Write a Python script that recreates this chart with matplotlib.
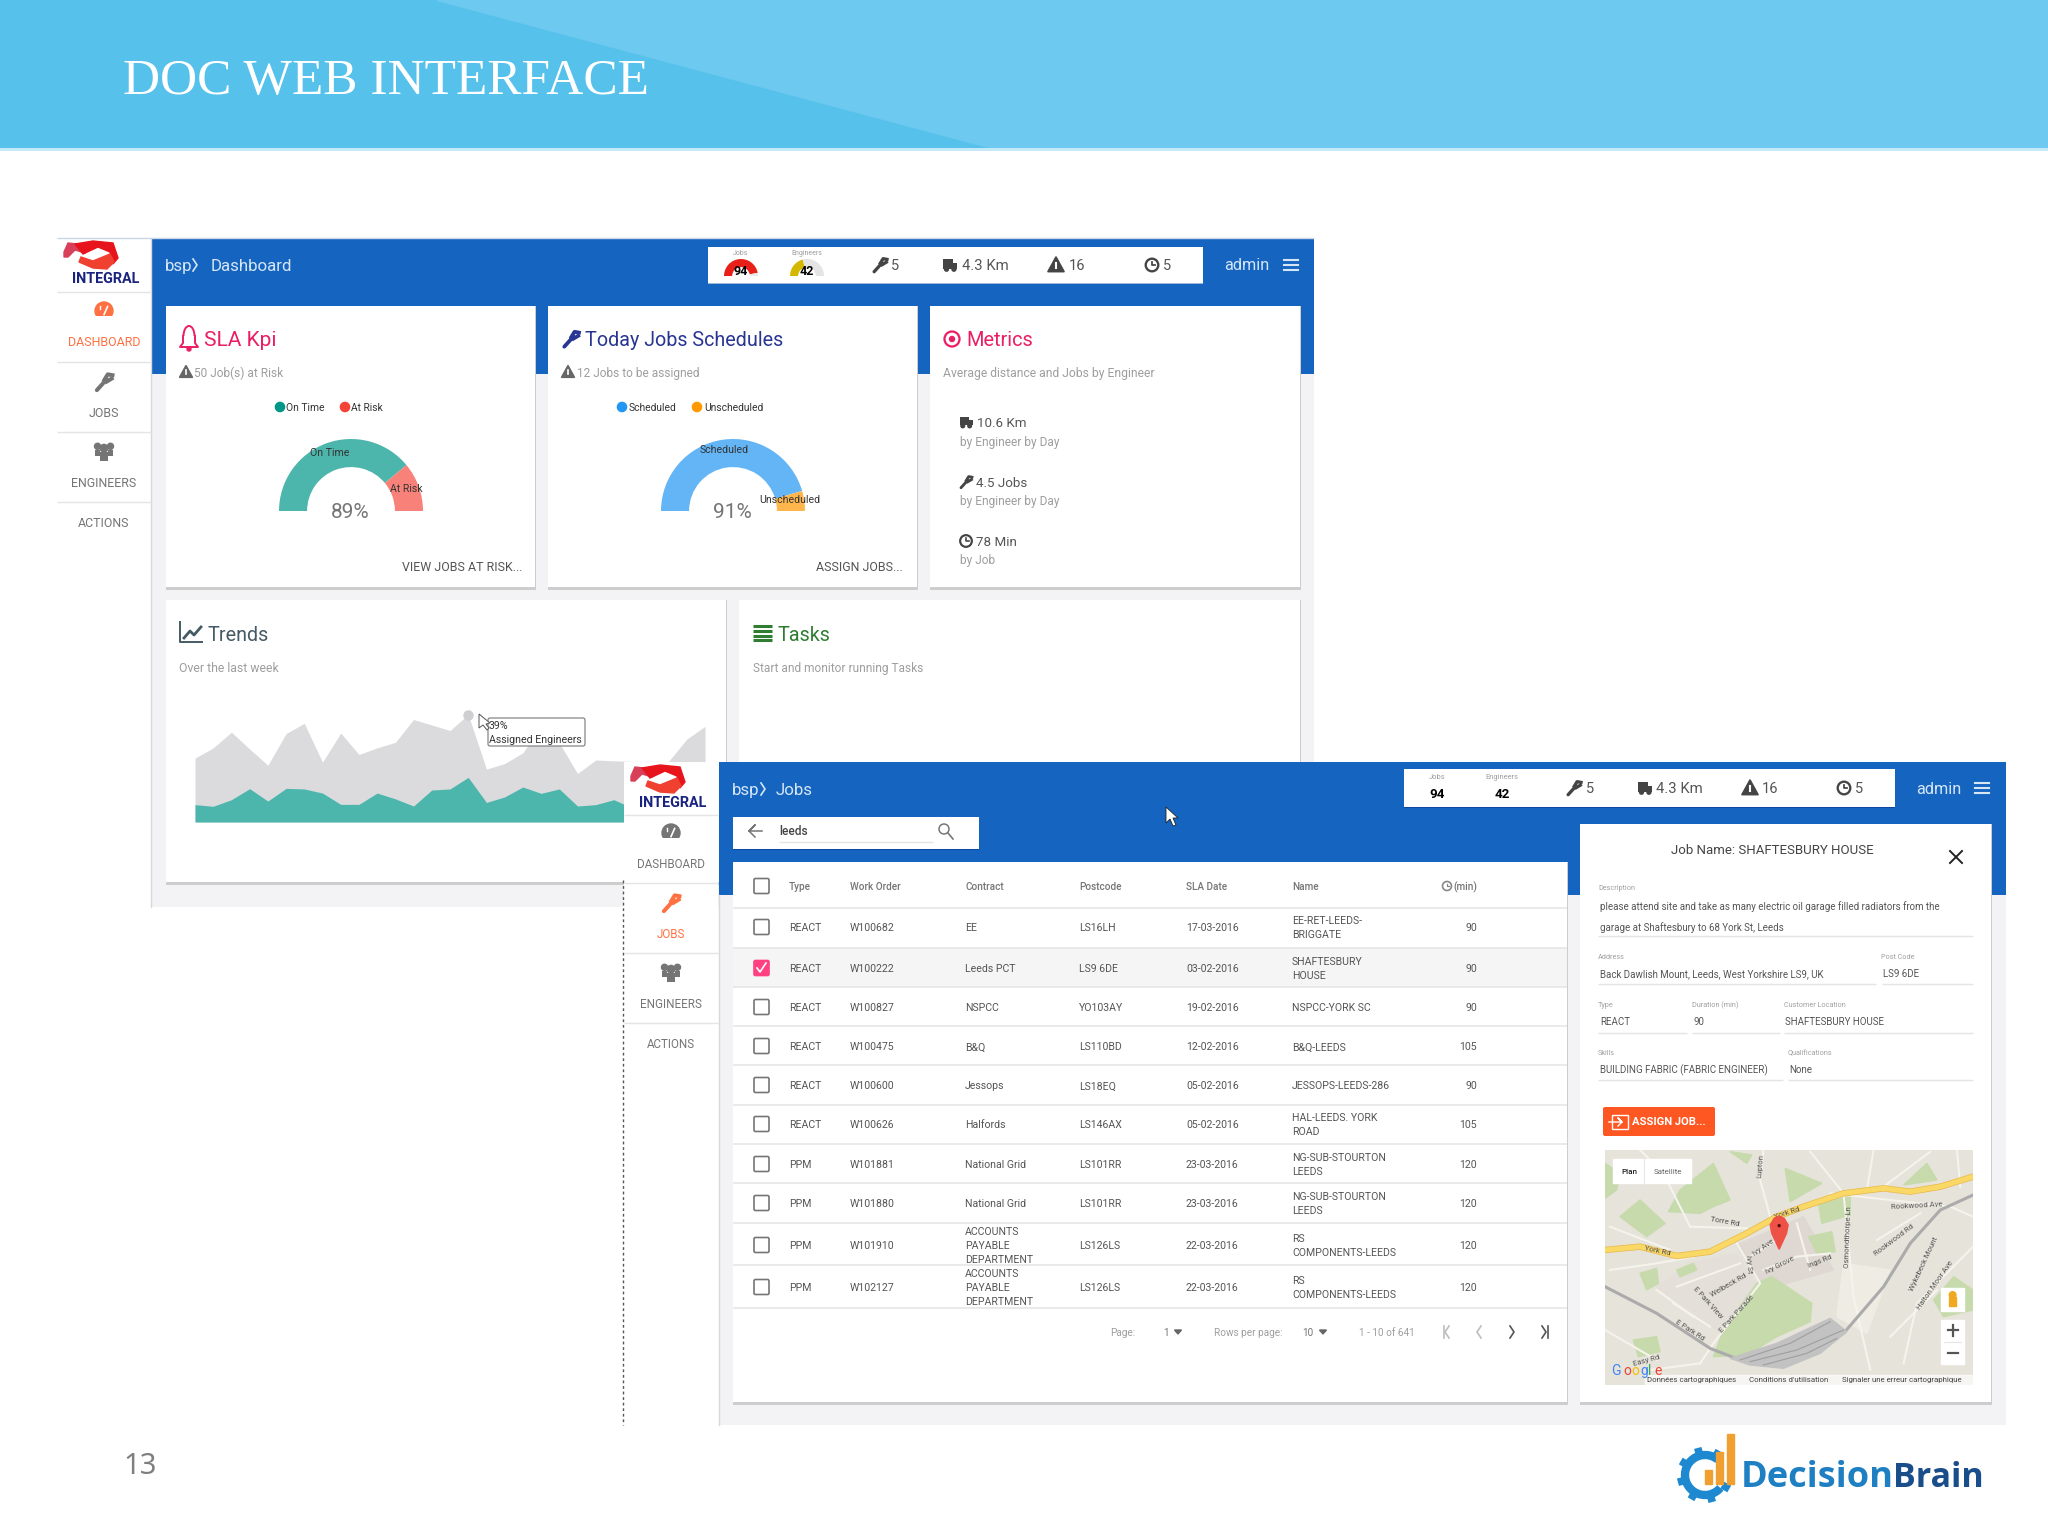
import numpy as np
import matplotlib
matplotlib.use("Agg")
import matplotlib.pyplot as plt
from matplotlib.patches import Rectangle, Circle, Polygon, FancyBboxPatch, Arc

W, H = 2048, 1536

# gauges
sla_labels = ["On Time", "At Risk"]
sla_values = [78, 22]
sla_center = "89%"
sched_labels = ["Scheduled", "Unscheduled"]
sched_values = [91, 9]
sched_center = "91%"
mini_jobs = [94, 6]
mini_engineers = [42, 58]

# trends, one value per day slot
assigned_engineers = [23.2, 26.9, 32.6, 26.5, 20.6, 32.1, 35.8, 21.7, 32.3, 24.5, 26.9, 28.9, 37.2, 35.2, 33.2,
                      39.0, 19.2, 21.2, 25.1, 34.7, 28.7, 17.6, 22.5, 22.2, 22.0, 22.0, 22.0, 30.1, 34.7]
trend_teal = [6.3, 5.7, 8.1, 12.1, 7.6, 12.2, 12.0, 10.5, 6.4, 6.4, 10.5, 8.4, 5.8, 11.6, 12.0,
              16.2, 7.1, 9.1, 12.7, 10.4, 12.0, 5.8, 6.3, 8.1, 5.1, 7.0, 8.0, 7.0, 7.0]

# jobs table
col_types = ["REACT"] * 6 + ["PPM"] * 4
col_orders = ["W100682", "W100222", "W100827", "W100475", "W100600", "W100626", "W101881", "W101880", "W101910", "W102127"]
col_contracts = ["EE", "Leeds PCT", "NSPCC", "B&Q", "Jessops", "Halfords", "National Grid", "National Grid",
                 "ACCOUNTS\nPAYABLE\nDEPARTMENT", "ACCOUNTS\nPAYABLE\nDEPARTMENT"]
col_postcodes = ["LS16LH", "LS9 6DE", "YO103AY", "LS110BD", "LS18EQ", "LS146AX", "LS101RR", "LS101RR", "LS126LS", "LS126LS"]
col_dates = ["17-03-2016", "03-02-2016", "19-02-2016", "12-02-2016", "05-02-2016", "05-02-2016",
             "23-03-2016", "23-03-2016", "22-03-2016", "22-03-2016"]
col_names = ["EE-RET-LEEDS-\nBRIGGATE", "SHAFTESBURY\nHOUSE", "NSPCC-YORK SC", "B&Q-LEEDS", "JESSOPS-LEEDS-286",
             "HAL-LEEDS. YORK\nROAD", "NG-SUB-STOURTON\nLEEDS", "NG-SUB-STOURTON\nLEEDS",
             "RS\nCOMPONENTS-LEEDS", "RS\nCOMPONENTS-LEEDS"]
col_minutes = [90, 90, 90, 105, 90, 105, 120, 120, 120, 120]
table_headers = ["Type", "Work Order", "Contract", "Postcode", "SLA Date", "Name"]

BLUE = "#1565C0"
ORANGE = "#FF7043"
plt.rcParams["font.family"] = ["Roboto", "DejaVu Sans"]

fig = plt.figure(figsize=(W / 100, H / 100), dpi=100, facecolor="white")


def px_axes(x0, y0, x1, y1, zorder):
    a = fig.add_axes([x0 / W, 1 - y1 / H, (x1 - x0) / W, (y1 - y0) / H], zorder=zorder)
    a.axis("off")
    return a


bg = px_axes(0, 0, W, H, 0)
bg.set_xlim(0, W)
bg.set_ylim(H, 0)
top = px_axes(0, 0, W, H, 2)
top.set_xlim(0, W)
top.set_ylim(H, 0)
top.patch.set_alpha(0)


def T(a, x, y, s, size=7.6, color="#555555", ha="left", va="center", **kw):
    return a.text(x, y + 1.3, s, fontsize=size, color=color, ha=ha, va=va, **kw)


def box(a, x0, y0, x1, y1, color, z=1, **kw):
    a.add_patch(Rectangle((x0, y0), x1 - x0, y1 - y0, facecolor=color, edgecolor="none", zorder=z, **kw))


def card(a, x0, y0, x1, y1, z=2):
    box(a, x0 - 0.5, y0, x1 + 0.5, y1 + 3, "#CDCDCD", z)
    box(a, x0, y0, x1, y1, "white", z)


def hline(a, x0, x1, y, color="#E4E4E4", lw=1.0, z=3):
    a.plot([x0, x1], [y, y], color=color, lw=lw, zorder=z, solid_capstyle="butt")


def wrench(a, x, y, s, color, z=4):
    a.plot([x - s * 0.42, x + s * 0.15], [y + s * 0.48, y - s * 0.15], color=color, lw=s * 0.17, zorder=z, solid_capstyle="round")
    a.plot([x + s * 0.02, x + s * 0.22, x + s * 0.5], [y - s * 0.12, y - s * 0.45, y - s * 0.4], color=color, lw=s * 0.17, zorder=z)
    a.plot([x + s * 0.15, x + s * 0.45], [y - s * 0.02, y - s * 0.2], color=color, lw=s * 0.17, zorder=z)


def truck(a, x, y, s, color, z=4):
    box(a, x - s * 0.5, y - s * 0.4, x + s * 0.2, y + s * 0.25, color, z)
    box(a, x + s * 0.2, y - s * 0.15, x + s * 0.5, y + s * 0.25, color, z)
    a.add_patch(Circle((x - s * 0.25, y + s * 0.3), s * 0.14, color=color, zorder=z))
    a.add_patch(Circle((x + s * 0.28, y + s * 0.3), s * 0.14, color=color, zorder=z))


def warn(a, x, y, s, color="#444444", z=4):
    a.add_patch(Polygon([(x, y - s * 0.55), (x + s * 0.55, y + s * 0.45), (x - s * 0.55, y + s * 0.45)], color=color, zorder=z))
    a.plot([x, x], [y - s * 0.15, y + s * 0.2], color="white", lw=s * 0.1, zorder=z + 1)


def clock(a, x, y, s, color="#444444", z=4):
    a.add_patch(Circle((x, y), s * 0.45, fill=False, edgecolor=color, lw=s * 0.12, zorder=z))
    a.plot([x, x, x + s * 0.22], [y - s * 0.25, y, y], color=color, lw=s * 0.09, zorder=z)


def people(a, x, y, s, color="#757575", z=4):
    for dx, dy, r in [(-0.34, -0.3, 0.16), (0.34, -0.3, 0.16), (0, -0.2, 0.2)]:
        a.add_patch(Circle((x + dx * s, y + dy * s), s * r, color=color, zorder=z))
    box(a, x - s * 0.48, y - s * 0.1, x - s * 0.2, y + s * 0.2, color, z)
    box(a, x + s * 0.2, y - s * 0.1, x + s * 0.48, y + s * 0.2, color, z)
    box(a, x - s * 0.2, y + s * 0.02, x + s * 0.2, y + s * 0.45, color, z)


def dial(a, x, y, s, color, z=4):
    a.add_patch(Circle((x, y), s * 0.5, color=color, zorder=z))
    box(a, x - s * 0.55, y + s * 0.28, x + s * 0.55, y + s * 0.56, "white", z)
    a.plot([x, x + s * 0.2], [y + s * 0.2, y - s * 0.25], color="white", lw=1.2, zorder=z + 1)
    a.plot([x - s * 0.25, x - s * 0.25], [y - s * 0.3, y - s * 0.1], color="white", lw=1, zorder=z + 1)


def menu(a, x, y, color="#D6E6F7", z=4):
    for dy in (-5, 0, 5):
        a.plot([x - 7, x + 7], [y + dy, y + dy], color=color, lw=1.5, zorder=z)


def chevron(a, x, y, color, z=4):
    a.plot([x - 2, x + 2, x - 2], [y - 6, y, y + 6], color=color, lw=1.2, zorder=z)


def integral_logo(a, x, y, z=4):
    # ribbon sits left of the word
    rx = x - 14
    a.add_patch(Polygon([(rx + 1, y + 12), (rx + 5, y + 3), (rx + 14, y + 4), (rx + 26, y + 9), (rx + 22, y + 13), (rx + 12, y + 10), (rx + 5, y + 17), (rx + 1, y + 17)], color="#D8405A", zorder=z))
    a.add_patch(Polygon([(rx + 12, y + 4), (rx + 30, y + 1), (rx + 50, y + 3), (rx + 55, y + 18), (rx + 50, y + 24), (rx + 47, y + 12), (rx + 35, y + 7), (rx + 20, y + 14)], color="#E8141C", zorder=z))
    a.add_patch(Polygon([(rx + 18, y + 17), (rx + 30, y + 21), (rx + 47, y + 14), (rx + 51, y + 22), (rx + 44, y + 29), (rx + 30, y + 28), (rx + 16, y + 22)], color="#F04030", zorder=z))
    T(a, x + 29, y + 38, "INTEGRAL", 10.4, "#1A237E", ha="center", fontweight="bold", zorder=z)


def gauge(x, y, r, values, colors, width=0.39, zorder=1):
    # half doughnut: the third slice is the hidden lower half
    a = px_axes(x - r, y - r, x + r, y + r, zorder)
    vals = list(values) + [sum(values)]
    a.pie(vals, colors=list(colors) + ["none"], startangle=180, counterclock=False, radius=1.0,
          wedgeprops=dict(width=width, linewidth=0))
    a.set_xlim(-1, 1)
    a.set_ylim(-1, 1)
    return a


def sidebar(a, x0, x1, logo_y, rows, active, size, z=3):
    cx = (x0 + x1) / 2
    names = ["DASHBOARD", "JOBS", "ENGINEERS", "ACTIONS"]
    for i, name in enumerate(names):
        color = ORANGE if i == active else "#757575"
        T(a, cx, rows[i], name, size, color, ha="center", zorder=z + 1)
        if i < 3:
            icon_y = rows[i] - 30
            if i == 0:
                dial(a, cx, icon_y, 18, color, z + 1)
            elif i == 1:
                wrench(a, cx, icon_y, 17, color, z + 1)
            else:
                people(a, cx, icon_y, 19, color, z + 1)
    integral_logo(a, cx - 27, logo_y, z + 1)


# slide header
box(bg, 0, 0, W, 148, "#56C1EB", 1)
bg.add_patch(Polygon([(437, 0), (W, 0), (W, 148), (992, 148)], color="#6DC9EF", zorder=2))
box(bg, 0, 148, W, 151, "#C5E9F9", 2)
T(bg, 123, 80, "DOC WEB INTERFACE", 37, "white", family="Liberation Serif", zorder=3)

T(bg, 123, 1465, "13", 21, "#7F7F7F", family="Noto Sans")

# back window
box(bg, 57, 238, 151, 907, "white", 1)
box(bg, 151, 238, 1314, 907, "#F3F3F5", 1)
box(bg, 151, 238, 1314, 374, BLUE, 2)
bg.plot([151, 151], [238, 907], color="#D8D8D8", lw=1, zorder=3)
hline(bg, 57, 1314, 238, "#C9D6E8", 1)
for sep in (292, 362, 432, 502):
    hline(bg, 57, 151, sep)
sidebar(bg, 57, 151, 240, [341, 412, 482, 522], 0, 8.9)

T(bg, 165, 265, "bsp", 12.2, "#D6E6F7", zorder=4)
chevron(bg, 195, 265, "#D6E6F7")
T(bg, 211, 265, "Dashboard", 12.2, "#D6E6F7", zorder=4)

box(bg, 708, 247, 1203, 284, "#9DB8D8", 3)
box(bg, 708, 247, 1203, 283, "white", 3)
T(bg, 741, 252, "Jobs", 5, "#9E9E9E", ha="center", zorder=4)
T(bg, 807, 252, "Engineers", 5, "#9E9E9E", ha="center", zorder=4)
wrench(bg, 880, 265, 14, "#444444")
T(bg, 891, 265, "5", 10.5, "#555555", zorder=4)
truck(bg, 950, 265, 14, "#444444")
T(bg, 962, 265, "4.3 Km", 10.7, "#555555", zorder=4)
warn(bg, 1056, 265, 15)
T(bg, 1069, 265, "16", 10.5, "#555555", zorder=4)
clock(bg, 1152, 265, 14)
T(bg, 1163, 265, "5", 10.5, "#555555", zorder=4)
T(bg, 1224, 264, "admin", 11.7, "#D6E6F7", zorder=4)
menu(bg, 1291, 265)

for x0, x1 in [(166, 535), (548, 917), (930, 1300)]:
    card(bg, x0, 306, x1, 587)
card(bg, 166, 600, 726, 882)
card(bg, 739, 600, 1300, 882)

# bell icon and card titles
bg.add_patch(Arc((189, 336), 11, 20, theta1=180, theta2=360, edgecolor="#E91E63", lw=1.4, zorder=4))
bg.plot([183, 183, 180, 198, 195, 195], [336, 343, 347, 347, 343, 336], color="#E91E63", lw=1.4, zorder=4)
bg.add_patch(Circle((189, 349), 2, color="#E91E63", zorder=4))
T(bg, 204, 339, "SLA Kpi", 15, "#E91E63", zorder=4)
wrench(bg, 571, 339, 16, "#283593")
T(bg, 585, 339, "Today Jobs Schedules", 14.2, "#283593", zorder=4)
bg.add_patch(Circle((952, 339), 7.5, fill=False, edgecolor="#E91E63", lw=1.6, zorder=4))
bg.add_patch(Circle((952, 339), 2.5, color="#E91E63", zorder=4))
T(bg, 966, 339, "Metrics", 14.4, "#E91E63", zorder=4)

warn(bg, 186, 372, 12, "#666666")
T(bg, 194, 372, "50 Job(s) at Risk", 8.6, "#9E9E9E", zorder=4)
warn(bg, 568, 372, 12, "#666666")
T(bg, 577, 372, "12 Jobs to be assigned", 8.6, "#9E9E9E", zorder=4)
T(bg, 943, 372, "Average distance and Jobs by Engineer", 8.7, "#9E9E9E", zorder=4)

# gauge legends
SLA_COLORS = ["#4DB6AC", "#F8827A"]
SCHED_COLORS = ["#64B5F6", "#FFB74D"]
for lx, tx, col, lab in [(280, 286, "#009688", sla_labels[0]), (345, 351, "#F44336", sla_labels[1]),
                         (622, 629, "#2196F3", sched_labels[0]), (697, 704, "#FF9800", sched_labels[1])]:
    bg.add_patch(Circle((lx, 407), 4.6, color=col, zorder=4))
    T(bg, tx, 407, lab, 7.4, "#333333", zorder=4)

gauge(351, 511, 72, sla_values, SLA_COLORS)
gauge(733, 511, 72, sched_values, SCHED_COLORS)
T(top, 330, 452, sla_labels[0], 7.6, "#333333", ha="center", zorder=2)
T(top, 406, 488, sla_labels[1], 7.6, "#333333", ha="center", zorder=2)
T(top, 350, 511, sla_center, 15, "#757575", ha="center", zorder=2)
T(top, 724, 449, sched_labels[0], 7.6, "#333333", ha="center", zorder=2)
T(top, 790, 499, sched_labels[1], 7.6, "#333333", ha="center", zorder=2)
T(top, 732, 511, sched_center, 15, "#757575", ha="center", zorder=2)
T(bg, 522, 566, "VIEW JOBS AT RISK...", 8.9, "#555555", ha="right", zorder=4)
T(bg, 903, 566, "ASSIGN JOBS...", 8.9, "#555555", ha="right", zorder=4)

# status bar mini gauges
gauge(741, 276, 17, mini_jobs, ["#E8201A", "#E8E8E8"], width=0.48)
gauge(807, 276, 17, mini_engineers, ["#D4B800", "#E4E4E4"], width=0.48)
T(top, 741, 270, "94", 9, "black", ha="center", fontweight="bold", zorder=2)
T(top, 807, 270, "42", 9, "black", ha="center", fontweight="bold", zorder=2)

# metrics
truck(bg, 966, 422, 13, "#444444")
T(bg, 977, 422, "10.6 Km", 9.6, "#555555", zorder=4)
T(bg, 960, 441, "by Engineer by Day", 8.6, "#9E9E9E", zorder=4)
wrench(bg, 966, 482, 12, "#444444")
T(bg, 976, 482, "4.5 Jobs", 9.6, "#555555", zorder=4)
T(bg, 960, 500, "by Engineer by Day", 8.6, "#9E9E9E", zorder=4)
clock(bg, 966, 541, 13)
T(bg, 976, 541, "78 Min", 9.6, "#555555", zorder=4)
T(bg, 960, 559, "by Job", 8.6, "#9E9E9E", zorder=4)

# trends and tasks
bg.plot([180, 180, 202], [622, 642, 642], color="#455A64", lw=1.4, zorder=4)
bg.plot([184, 190, 194, 201], [638, 631, 635, 627], color="#455A64", lw=2, zorder=4)
T(bg, 208, 634, "Trends", 14.2, "#455A64", zorder=4)
T(bg, 179, 667, "Over the last week", 8.8, "#9E9E9E", zorder=4)
for dy in (-7, -2, 3, 7):
    hline(bg, 753, 772, 633 + dy, "#2E7D32", 2.2, 4)
T(bg, 778, 634, "Tasks", 14.2, "#2E7D32", zorder=4)
T(bg, 753, 667, "Start and monitor running Tasks", 8.55, "#9E9E9E", zorder=4)

trend = px_axes(195, 698, 705, 822, 1)
xs = np.arange(len(assigned_engineers))
trend.fill_between(xs, assigned_engineers, color="#DBDBDD", linewidth=0)
trend.fill_between(xs, trend_teal, color="#4DB6AC", linewidth=0)
trend.plot(15, assigned_engineers[15], "o", color="#CFCFD1", ms=6.5, clip_on=False)
trend.set_xlim(0, len(xs) - 1)
trend.set_ylim(0, 45)

top.add_patch(FancyBboxPatch((488, 718), 97, 28, boxstyle="round,pad=0,rounding_size=2", facecolor="white", edgecolor="#777777", lw=0.8, zorder=2))
T(top, 489, 725, "39%", 7.7, "#333333", zorder=3)
T(top, 489, 739, "Assigned Engineers", 7.7, "#333333", zorder=3)
top.add_patch(Polygon([(479, 714), (479, 728), (483, 725), (487, 730), (489, 728), (486, 724), (490, 723)], facecolor="white", edgecolor="#555555", lw=0.7, zorder=4))

# front window
box(top, 624, 762, 718, 1425, "white", 5)
box(top, 719, 762, 2006, 1425, "#F3F3F5", 5)
box(top, 719, 762, 2006, 895, BLUE, 6)
top.plot([623, 623], [880, 1425], color="#555555", lw=1, ls=(0, (2, 2)), zorder=6)
top.plot([718.5, 718.5], [895, 1425], color="#D8D8D8", lw=1, zorder=6)
for sep in (815, 883, 953, 1023):
    hline(top, 624, 718, sep, z=6)
sidebar(top, 624, 718, 764, [863, 933, 1003, 1043], 1, 8.4, z=7)

T(top, 732, 789, "bsp", 12.2, "#D6E6F7", zorder=7)
chevron(top, 763, 789, "#D6E6F7", 7)
T(top, 776, 789, "Jobs", 12.2, "#D6E6F7", zorder=7)

box(top, 1404, 769, 1895, 808, "#0D47A1", 7)
box(top, 1404, 769, 1895, 807, "white", 7)
T(top, 1437, 776, "Jobs", 5.4, "#9E9E9E", ha="center", zorder=8)
T(top, 1502, 776, "Engineers", 5.4, "#9E9E9E", ha="center", zorder=8)
T(top, 1437, 793, "94", 9.6, "black", ha="center", fontweight="bold", zorder=8)
T(top, 1502, 793, "42", 9.6, "black", ha="center", fontweight="bold", zorder=8)
wrench(top, 1574, 788, 14, "#444444", 8)
T(top, 1586, 788, "5", 10.5, "#555555", zorder=8)
truck(top, 1645, 788, 14, "#444444", 8)
T(top, 1656, 788, "4.3 Km", 10.7, "#555555", zorder=8)
warn(top, 1750, 788, 15, z=8)
T(top, 1762, 788, "16", 10.5, "#555555", zorder=8)
clock(top, 1844, 788, 14, z=8)
T(top, 1855, 788, "5", 10.5, "#555555", zorder=8)
T(top, 1916, 788, "admin", 11.7, "#D6E6F7", zorder=8)
menu(top, 1982, 788, z=8)
top.add_patch(Polygon([(1166, 807), (1166, 823), (1170, 819), (1173, 826), (1176, 825), (1173, 818), (1178, 818)], facecolor="white", edgecolor="#222222", lw=0.6, zorder=8))

# search box
box(top, 733, 817, 979, 850, "#0D47A1", 7)
box(top, 733, 817, 979, 849, "white", 7)
top.plot([762, 749, 755, 749, 755], [831, 831, 825, 831, 837], color="#757575", lw=1.1, zorder=8)
T(top, 779, 830, "leeds", 8.6, "#444444", zorder=8, fontweight="medium")
hline(top, 779, 933, 842, z=8)
top.add_patch(Circle((944, 829), 5, fill=False, edgecolor="#777777", lw=1.1, zorder=8))
top.plot([948, 953], [833, 839], color="#777777", lw=1.2, zorder=8)

# table
card(top, 733, 862, 1567, 1402, z=7)
box(top, 733, 948, 1567, 987, "#F5F5F5", 8)
row_lines = [908, 948, 987, 1026, 1065, 1105, 1144, 1183, 1223, 1265, 1308]
for y in row_lines:
    hline(top, 733, 1567, y, "#E6E6E6", 1.2, 9)

COL_X = [789, 850, 965, 1079, 1186, 1292]
row_y = [927, 968, 1007, 1046, 1085, 1124, 1164, 1203, 1245, 1287]


def checkbox(y, checked=False):
    color = "#FF4081" if checked else "white"
    edge = "#FF4081" if checked else "#757575"
    top.add_patch(FancyBboxPatch((754, y - 7.5), 15, 15, boxstyle="round,pad=0,rounding_size=1.5", facecolor=color, edgecolor=edge, lw=1.2, zorder=9))
    if checked:
        top.plot([757, 760, 766], [y, y + 4, y - 5], color="white", lw=1.2, zorder=10)


checkbox(886)
for name, x in zip(table_headers, COL_X):
    T(top, x, 886, name, 7.2, "#757575", fontweight="medium", zorder=9)
clock(top, 1447, 886, 10, "#888888", 9)
T(top, 1477, 886, "(min)", 7.2, "#757575", ha="right", fontweight="medium", zorder=9)

for i, y in enumerate(row_y):
    checkbox(y, col_orders[i] == "W100222")
    cells = [col_types[i], col_orders[i], col_contracts[i], col_postcodes[i], col_dates[i], col_names[i]]
    for x, s in zip(COL_X, cells):
        T(top, x, y, s, 7.6, "#555555", zorder=9, linespacing=1.5)
    T(top, 1477, y, str(col_minutes[i]), 7.6, "#555555", ha="right", zorder=9)

# pagination
T(top, 1110, 1332, "Page:", 7.2, "#9E9E9E", zorder=9)
T(top, 1163, 1332, "1", 7.2, "#757575", zorder=9)
T(top, 1214, 1332, "Rows per page:", 7.2, "#9E9E9E", zorder=9)
T(top, 1302, 1332, "10", 7.2, "#757575", zorder=9)
T(top, 1359, 1332, "1 - 10 of 641", 7.2, "#9E9E9E", zorder=9)
for tx in (1178, 1323):
    top.add_patch(Polygon([(tx - 3.5, 1330), (tx + 3.5, 1330), (tx, 1334)], color="#666666", zorder=9))
top.plot([1449, 1445, 1449], [1326, 1332, 1338], color="#BDBDBD", lw=1.2, zorder=9)
top.plot([1444, 1444], [1326, 1338], color="#BDBDBD", lw=1.2, zorder=9)
top.plot([1481, 1477, 1481], [1326, 1332, 1338], color="#BDBDBD", lw=1.2, zorder=9)
top.plot([1510, 1514, 1510], [1326, 1332, 1338], color="#555555", lw=1.2, zorder=9)
top.plot([1542, 1546, 1542], [1326, 1332, 1338], color="#555555", lw=1.2, zorder=9)
top.plot([1548, 1548], [1326, 1338], color="#555555", lw=1.2, zorder=9)

# job detail card
card(top, 1580, 824, 1991, 1402, z=7)
T(top, 1772, 849, "Job Name: SHAFTESBURY HOUSE", 9.5, "#444444", ha="center", zorder=9)
top.plot([1950, 1962], [851, 863], color="#222222", lw=1.4, zorder=9)
top.plot([1950, 1962], [863, 851], color="#222222", lw=1.4, zorder=9)
LAB = "#A0A0A0"
VAL = "#555555"
T(top, 1598, 887, "Description", 5.2, LAB, zorder=9)
T(top, 1600, 905, "please attend site and take as many electric oil garage filled radiators from the", 7.0, VAL, zorder=9)
T(top, 1600, 926, "garage at Shaftesbury to 68 York St, Leeds", 7.0, VAL, zorder=9)
hline(top, 1598, 1973, 936, z=9)
T(top, 1598, 956, "Address", 5.2, LAB, zorder=9)
T(top, 1881, 956, "Post Code", 5.2, LAB, zorder=9)
T(top, 1600, 973, "Back Dawlish Mount, Leeds, West Yorkshire LS9, UK", 7.0, VAL, zorder=9)
T(top, 1883, 973, "LS9 6DE", 7.0, VAL, zorder=9)
hline(top, 1598, 1876, 984, z=9)
hline(top, 1882, 1973, 984, z=9)
T(top, 1598, 1004, "Type", 5.2, LAB, zorder=9)
T(top, 1692, 1004, "Duration (min)", 5.2, LAB, zorder=9)
T(top, 1784, 1004, "Customer Location", 5.2, LAB, zorder=9)
T(top, 1600, 1021, "REACT", 7.0, VAL, zorder=9)
T(top, 1693, 1021, "90", 7.0, VAL, zorder=9)
T(top, 1785, 1021, "SHAFTESBURY HOUSE", 7.0, VAL, zorder=9)
hline(top, 1598, 1687, 1033, z=9)
hline(top, 1692, 1780, 1033, z=9)
hline(top, 1784, 1973, 1033, z=9)
T(top, 1598, 1052, "Skills", 5.2, LAB, zorder=9)
T(top, 1788, 1052, "Qualifications", 5.2, LAB, zorder=9)
T(top, 1600, 1069, "BUILDING FABRIC (FABRIC ENGINEER)", 7.0, VAL, zorder=9)
T(top, 1789, 1069, "None", 7.0, VAL, zorder=9)
hline(top, 1598, 1783, 1080, z=9)
hline(top, 1788, 1973, 1080, z=9)

top.add_patch(FancyBboxPatch((1603, 1107), 112, 29, boxstyle="round,pad=0,rounding_size=2", facecolor="#FF5722", edgecolor="none", zorder=9))
top.add_patch(Rectangle((1612, 1115), 16, 14, fill=False, edgecolor="white", lw=1, zorder=10))
top.plot([1609, 1622, 1618, 1622, 1618], [1122, 1122, 1118, 1122, 1126], color="white", lw=1, zorder=10)
T(top, 1632, 1121, "ASSIGN JOB...", 8.1, "white", fontweight="bold", zorder=10)

# map, in its own axes
mp = px_axes(1605, 1150, 1973, 1385, 3)
mp.axis("on")
mp.set_xticks([])
mp.set_yticks([])
for s in mp.spines.values():
    s.set_visible(False)
mp.set_facecolor("#E6E3DA")
mp.set_xlim(45, 1148)
mp.set_ylim(765, 60)
mp.add_patch(Polygon([(440, 345), (640, 260), (730, 420), (520, 480)], color="#DFD8D2", zorder=1))
mp.add_patch(Polygon([(200, 470), (300, 400), (440, 370), (500, 470), (380, 600)], color="#E4DFD8", zorder=1))
mp.add_patch(Polygon([(760, 400), (900, 420), (830, 610), (740, 560)], color="#EFECE4", zorder=1))
GREENS = [
    [(370, 680), (400, 600), (500, 460), (545, 440), (665, 520), (660, 575), (560, 620), (470, 675)],
    [(235, 245), (270, 180), (370, 100), (420, 210), (370, 230), (330, 250)],
    [(90, 260), (150, 210), (225, 280), (170, 320)],
    [(585, 115), (695, 160), (600, 215)],
    [(685, 220), (780, 200), (780, 255), (695, 280)],
    [(655, 320), (725, 305), (735, 365), (680, 370)],
    [(940, 165), (1010, 100), (1040, 150)],
    [(150, 430), (200, 415), (205, 460), (170, 480)],
    [(130, 630), (200, 620), (210, 665), (145, 680)],
    [(1030, 510), (1090, 440), (1148, 480), (1148, 540), (1060, 560)],
    [(45, 100), (90, 130), (80, 180), (45, 205)],
    [(420, 65), (485, 75), (470, 100)],
    [(260, 420), (310, 400), (320, 420), (270, 440)],
]
for g in GREENS:
    mp.add_patch(Polygon(g, color="#C6DAAC", zorder=2))
STREETS = [
    [(660, 65), (760, 190), (790, 500), (840, 720)], [(880, 170), (1020, 65)], [(440, 340), (510, 460), (370, 640), (330, 700)],
    [(300, 290), (470, 295)], [(940, 700), (980, 520), (1148, 350)], [(720, 190), (1080, 230), (1148, 260)],
    [(520, 420), (620, 380), (720, 370)], [(480, 380), (560, 330)], [(260, 470), (450, 400)], [(250, 520), (360, 590)],
    [(200, 480), (310, 560)], [(150, 60), (220, 130), (300, 290)], [(520, 60), (510, 150), (540, 260)], [(860, 330), (990, 250)],
    [(60, 290), (240, 360)], [(60, 420), (200, 400), (310, 380)], [(620, 280), (660, 420)], [(850, 60), (830, 180)],
    [(1100, 60), (1110, 170)], [(900, 620), (1040, 480)], [(45, 600), (200, 690)], [(330, 700), (180, 720)],
]
for path in STREETS:
    mp.plot(*zip(*path), color="#F5F3EC", lw=1.5, zorder=3)
mp.plot([45, 200, 360, 450, 600, 760, 880, 960, 1050, 1148], [470, 550, 655, 690, 690, 610, 470, 340, 240, 195], color="#ABABAB", lw=2.2, zorder=3)
mp.add_patch(Polygon([(420, 685), (560, 640), (720, 565), (770, 605), (690, 670), (580, 715), (480, 705)], color="#C2C2C2", zorder=3))
for fan in ([(450, 690), (600, 640), (720, 575)], [(480, 695), (620, 660), (760, 600)], [(520, 705), (650, 670), (740, 625)]):
    mp.plot(*zip(*fan), color="#9E9E9E", lw=0.8, zorder=4)
road = [(45, 360), (150, 350), (260, 378), (360, 365), (470, 310), (560, 260), (640, 230), (760, 190), (880, 175), (960, 185), (1050, 170), (1148, 140)]
mp.plot(*zip(*road), color="#E8B84A", lw=4.6, zorder=4)
mp.plot(*zip(*road), color="#FAD866", lw=3.6, zorder=5)

MAP_LABELS = [("York Rd", 203, 360, -12), ("York Rd", 590, 248, 18), ("Torre Rd", 405, 272, -10), ("Ivy Ave", 520, 350, 35), ("Ivy Grove", 570, 405, 27),
              ("Ings Rd", 690, 393, 22), ("Welbeck Rd", 415, 463, 30), ("E Park View", 355, 518, -48), ("E Park Rd", 298, 600, -33),
              ("E Park Parade", 440, 550, 48), ("Osmondthorpe Ln", 775, 320, 88), ("Rookwood Ave", 980, 225, 3), ("Rookwood Rd", 912, 330, 37),
              ("Wykebeck Mount", 1000, 400, 65), ("Halton Moor Ave", 1035, 465, 55), ("Easy Rd", 170, 690, 15), ("Lupton", 510, 105, 85), ("Ivy St", 475, 400, -85)]
for s, x, y, rot in MAP_LABELS:
    T(mp, x, y, s, 5.6, "#555555", ha="center", rotation=rot, zorder=6)

mp.add_patch(Rectangle((70, 88), 233, 72, color="white", zorder=7))
mp.plot([163, 163], [88, 160], color="#E6E6E6", lw=0.8, zorder=8)
T(mp, 118, 124, "Plan", 5.8, "#222222", ha="center", fontweight="medium", zorder=8)
T(mp, 233, 124, "Satellite", 5.8, "#666666", ha="center", zorder=8)
mp.add_patch(Rectangle((1053, 475), 69, 68, color="white", zorder=7))
mp.add_patch(Circle((1087, 495), 10, color="#F0A820", zorder=8))
mp.add_patch(Rectangle((1076, 502), 22, 26, color="#F0A820", zorder=8))
mp.add_patch(Rectangle((1053, 570), 69, 133, color="white", zorder=7))
mp.plot([1072, 1102], [601, 601], color="#555555", lw=1.6, zorder=8)
mp.plot([1087, 1087], [584, 618], color="#555555", lw=1.6, zorder=8)
mp.plot([1072, 1102], [670, 670], color="#555555", lw=1.6, zorder=8)
mp.plot([1062, 1112], [636, 636], color="#E6E6E6", lw=0.8, zorder=8)
mp.add_patch(Polygon([(567, 358), (545, 310), (540, 285), (552, 265), (567, 258), (582, 265), (594, 285), (589, 310)], color="#EE5146", zorder=9))
mp.add_patch(Circle((567, 287), 3, color="#5A0F0A", zorder=10))
mp.add_patch(Rectangle((165, 735), 983, 30, color="white", alpha=0.65, zorder=7))
T(mp, 170, 750, "Données cartographiques", 5.7, "#444444", zorder=8)
T(mp, 477, 750, "Conditions d'utilisation", 5.7, "#444444", zorder=8)
T(mp, 755, 750, "Signaler une erreur cartographique", 5.7, "#444444", zorder=8)
for ch, x, col in zip("Google", [63, 100, 125, 150, 175, 192], ["#4285F4", "#EA4335", "#FBBC05", "#4285F4", "#34A853", "#EA4335"]):
    T(mp, x, 722, ch, 10, col, zorder=8)

# DecisionBrain logo
T(bg, 1741, 1477, "Decision", 26, "#1E7FC2", family="Open Sans", fontweight="bold", zorder=3)
T(bg, 1893, 1477, "Brain", 24.5, "#1A4E8A", family="Open Sans", fontweight="bold", zorder=3)
bg.add_patch(Arc((1705, 1475), 40, 40, theta1=40, theta2=310, edgecolor="#1E88D0", lw=6, zorder=3))
for ang in np.radians([30, 75, 120, 165, 210, 255, 300]):
    bg.plot([1705 + 20 * np.cos(ang), 1705 + 28 * np.cos(ang)], [1475 + 20 * np.sin(ang), 1475 + 28 * np.sin(ang)], color="#1E88D0", lw=5.5, zorder=3, solid_capstyle="butt")
for bx, by in [(1708, 1470), (1719, 1452), (1730, 1434)]:
    bg.add_patch(Rectangle((bx - 3, by), 7, 1484 - by, color="#F0A030", zorder=4))

fig.savefig("out.png", dpi=100)
plt.close(fig)
